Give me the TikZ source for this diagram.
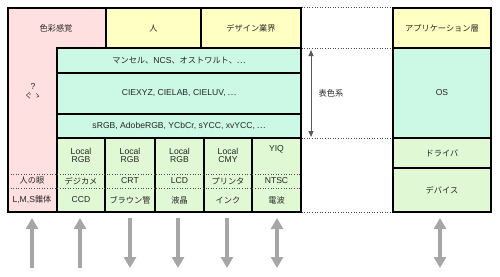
\documentclass[tikz,border=0pt]{standalone}
\usepackage{fontspec}
\setmainfont{Noto Sans CJK JP}
\newfontfamily\lat{Liberation Sans}
\usetikzlibrary{arrows.meta}
\definecolor{pinkc}{HTML}{FFE0E0}
\definecolor{yelc}{HTML}{FFFFC4}
\definecolor{mintc}{HTML}{CCF8E6}
\definecolor{grnc}{HTML}{E0F8D4}
\definecolor{txtc}{HTML}{262626}
\definecolor{arrc}{HTML}{A6A6A6}
\newcommand\lt[1]{{\lat\fontsize{8.6}{8}\selectfont #1}}
\newcommand\mycell[7]{%
  \node[cellbox,fill=#6,minimum width={(#4-#2)*1pt},minimum height={(#5-#3)*1pt}]
    (#1) at ({(#2+#4)/2},{(#3+#5)/2}) {#7};}
\begin{document}
\begin{tikzpicture}[x=1pt,y=-1pt,
  cellbox/.style={draw=black,line width=1.1pt,inner sep=0pt,text=txtc,align=center,
    font=\fontsize{8.2}{8}\selectfont},
  lbl/.style={inner sep=0pt,text=txtc,align=center,font=\fontsize{8.2}{8}\selectfont},
  dotline/.style={dotted,line width=0.6pt,draw=black!70},
  bigarrow/.style={draw=arrc,line width=3.6pt,-{Triangle[width=12pt,length=11pt]}},
  bigdarrow/.style={draw=arrc,line width=3.6pt,{Triangle[width=12pt,length=11pt]}-{Triangle[width=12pt,length=11pt]}}]
\useasboundingbox (0,0) rectangle (500,276);
% pink L-shape
\fill[pinkc] (8,8) -- (106,8) -- (106,48) -- (57,48) -- (57,212) -- (8,212) -- cycle;
\node[lbl] (kankaku) at (56,28) {色彩感覚};
\node[lbl,font=\fontsize{7.5}{9}\selectfont] (hatena) at (33,91) {\lt{?}\\ぐ\,ゝ};
% yellow headers
\mycell{hito}{106}{8}{201}{48}{yelc}{人}
\mycell{design}{201}{8}{301}{48}{yelc}{デザイン業界}
% mint rows
\mycell{munsell}{57}{48}{301}{73}{mintc}{マンセル、\lt{NCS}、オストワルト、…}
\mycell{ciexyz}{57}{73}{301}{114}{mintc}{\lt{CIEXYZ, CIELAB, CIELUV,} …}
\mycell{srgb}{57}{114}{301}{138}{mintc}{\lt{sRGB, AdobeRGB, YCbCr, sYCC, xvYCC,} …}
% green columns
\mycell{c1}{57}{138}{105}{212}{grnc}{}
\mycell{c2}{105}{138}{155}{212}{grnc}{}
\mycell{c3}{155}{138}{204}{212}{grnc}{}
\mycell{c4}{204}{138}{252}{212}{grnc}{}
\mycell{c5}{252}{138}{301}{212}{grnc}{}
% dotted separators
\draw[dotline] (8,174) -- (301,174);
\draw[dotline] (8,188) -- (301,188);
% texts in sub cells
\node[lbl] (eye) at (32,181) {人の眼};
\node[lbl] (lms) at (32,200) {\lt{L,M,S}錐体};
\node[lbl,font=\lat\fontsize{8.6}{7.6}\selectfont] (t1a) at (81,155.5) {Local\\RGB};
\node[lbl,font=\lat\fontsize{8.6}{7.6}\selectfont] (t2a) at (130,155.5) {Local\\RGB};
\node[lbl,font=\lat\fontsize{8.6}{7.6}\selectfont] (t3a) at (179.5,155.5) {Local\\RGB};
\node[lbl,font=\lat\fontsize{8.6}{7.6}\selectfont] (t4a) at (228,155.5) {Local\\CMY};
\node[lbl] (t5a) at (276.5,149) {\lt{YIQ}};
\node[lbl] (t1b) at (81,181) {デジカメ};
\node[lbl] (t2b) at (130,181) {\lt{CRT}};
\node[lbl] (t3b) at (179.5,181) {\lt{LCD}};
\node[lbl] (t4b) at (228,181) {プリンタ};
\node[lbl] (t5b) at (276.5,181) {\lt{NTSC}};
\node[lbl] (t1c) at (81,200) {\lt{CCD}};
\node[lbl] (t2c) at (130,200) {ブラウン管};
\node[lbl] (t3c) at (179.5,200) {液晶};
\node[lbl] (t4c) at (228,200) {インク};
\node[lbl] (t5c) at (276.5,200) {電波};
% outer border
\draw[line width=1.1pt] (8,8) rectangle (301,212);
\draw[line width=1.1pt] (57,48) -- (106,48) -- (106,8);
% right box
\mycell{app}{393}{8}{491}{48}{yelc}{アプリケーション層}
\mycell{os}{393}{48}{491}{138}{mintc}{\lt{OS}}
\mycell{driver}{393}{138}{491}{168}{grnc}{ドライバ}
\mycell{device}{393}{168}{491}{212}{grnc}{デバイス}
% dotted gap lines
\draw[dotline] (design.north east) -- (app.north west);
\draw[dotline] (design.south east) -- (app.south west);
\draw[dotline] (srgb.south east) -- (os.south west);
\draw[dotline] (c5.south east) -- (device.south west);
% hyoushokukei arrow
\coordinate (hs1) at (311,50);
\coordinate (hs2) at (311,137);
\draw[draw=black!65,line width=1pt,{Triangle[width=5pt,length=6pt]}-{Triangle[width=5pt,length=6pt]}] (hs1) -- (hs2);
\node[lbl] (hyou) at (331,93) {表色系};
% big gray arrows
\foreach \n/\x in {a/32,b/80,c/130,d/178,e/227,f/277,g/440}{
  \coordinate (\n top) at (\x,218);
  \coordinate (\n bot) at (\x,268);
}
\draw[bigarrow] (abot) -- (atop);
\draw[bigarrow] (bbot) -- (btop);
\draw[bigarrow] (ctop) -- (cbot);
\draw[bigarrow] (dtop) -- (dbot);
\draw[bigarrow] (etop) -- (ebot);
\draw[bigdarrow] (ftop) -- (fbot);
\draw[bigdarrow] (gtop) -- (gbot);
\end{tikzpicture}
\end{document}
